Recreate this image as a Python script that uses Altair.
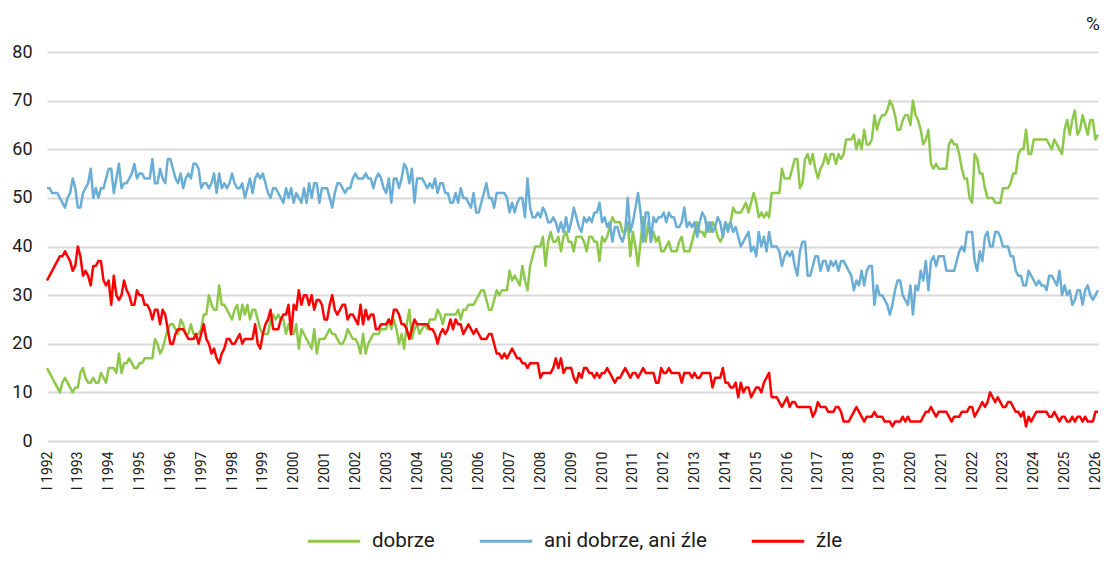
import altair as alt
import pandas as pd

# Monthly survey results, January 1992 - February 2026 (%), one line per year
dobrze = [
    15, 14, 13, 12, 11, 10, 12, 13, 12, 11, 10, 11,  # 1992
    11, 14, 15, 13, 12, 12, 13, 12, 12, 14, 13, 12,  # 1993
    15, 15, 15, 14, 18, 14, 16, 16, 17, 16, 15, 15,  # 1994
    16, 16, 17, 17, 17, 17, 21, 20, 18, 19, 21, 23,  # 1995
    24, 24, 23, 22, 25, 24, 22, 22, 24, 22, 22, 22,  # 1996
    23, 26, 26, 30, 28, 27, 27, 32, 28, 28, 27, 26,  # 1997
    25, 27, 28, 25, 28, 26, 28, 25, 27, 27, 25, 23,  # 1998
    22, 22, 22, 25, 26, 25, 26, 25, 25, 22, 24, 22,  # 1999
    22, 24, 19, 23, 22, 21, 20, 19, 23, 18, 21, 21,  # 2000
    21, 22, 23, 22, 22, 21, 20, 20, 21, 23, 22, 21,  # 2001
    21, 20, 18, 22, 18, 20, 21, 22, 22, 22, 23, 23,  # 2002
    23, 25, 23, 25, 23, 20, 22, 19, 24, 27, 21, 23,  # 2003
    24, 22, 23, 24, 23, 25, 25, 25, 27, 26, 24, 26,  # 2004
    26, 26, 26, 26, 27, 25, 27, 27, 28, 28, 28, 29,  # 2005
    30, 31, 31, 29, 27, 27, 29, 31, 30, 31, 31, 31,  # 2006
    35, 33, 34, 33, 32, 36, 33, 31, 36, 38, 40, 40,  # 2007
    40, 42, 36, 41, 43, 41, 41, 42, 39, 42, 43, 41,  # 2008
    41, 39, 42, 42, 42, 41, 39, 42, 42, 41, 41, 37,  # 2009
    42, 41, 42, 44, 46, 45, 45, 45, 43, 43, 45, 38,  # 2010
    43, 40, 36, 41, 46, 41, 45, 41, 43, 41, 42, 39,  # 2011
    39, 40, 41, 39, 39, 39, 41, 42, 39, 39, 39, 41,  # 2012
    43, 45, 43, 43, 42, 45, 43, 45, 44, 42, 41, 42,  # 2013
    45, 44, 45, 48, 47, 47, 47, 48, 49, 47, 49, 51,  # 2014
    49, 46, 47, 46, 47, 46, 51, 51, 51, 51, 56, 54,  # 2015
    54, 54, 56, 58, 58, 52, 53, 58, 59, 57, 59, 56,  # 2016
    54, 56, 57, 59, 57, 59, 59, 57, 59, 58, 59, 62,  # 2017
    62, 62, 63, 60, 62, 60, 64, 61, 61, 62, 67, 64,  # 2018
    66, 67, 67, 68, 70, 69, 67, 64, 64, 66, 67, 67,  # 2019
    65, 70, 67, 66, 64, 61, 62, 64, 57, 56, 57, 56,  # 2020
    56, 56, 56, 61, 62, 61, 61, 59, 56, 54, 54, 50,  # 2021
    49, 59, 58, 55, 55, 52, 50, 50, 50, 49, 49, 49,  # 2022
    52, 52, 52, 53, 55, 55, 59, 60, 60, 64, 59, 59,  # 2023
    62, 62, 62, 62, 62, 62, 61, 60, 62, 61, 60, 59,  # 2024
    64, 66, 63, 66, 68, 63, 64, 67, 65, 63, 66, 66,  # 2025
    62, 63,                                          # 2026
]

ani_dobrze_ani_zle = [
    52, 52, 51, 51, 51, 50, 49, 48, 50, 51, 54, 52,  # 1992
    48, 48, 51, 52, 53, 56, 50, 52, 50, 52, 52, 54,  # 1993
    56, 56, 51, 54, 57, 52, 53, 53, 54, 55, 57, 54,  # 1994
    55, 55, 54, 54, 54, 58, 53, 53, 56, 54, 53, 58,  # 1995
    58, 56, 54, 53, 55, 52, 54, 55, 54, 57, 57, 56,  # 1996
    52, 53, 53, 52, 53, 55, 51, 55, 52, 53, 52, 53,  # 1997
    55, 53, 52, 52, 53, 50, 52, 54, 51, 54, 55, 54,  # 1998
    55, 53, 51, 50, 52, 52, 51, 50, 49, 52, 50, 52,  # 1999
    49, 51, 50, 49, 52, 49, 53, 50, 53, 53, 49, 52,  # 2000
    52, 52, 50, 48, 51, 53, 53, 52, 51, 52, 52, 54,  # 2001
    55, 54, 54, 54, 55, 54, 54, 52, 54, 55, 54, 52,  # 2002
    51, 54, 49, 54, 54, 52, 54, 57, 56, 53, 56, 49,  # 2003
    54, 54, 54, 53, 52, 53, 52, 54, 51, 53, 53, 51,  # 2004
    51, 49, 49, 51, 49, 52, 50, 50, 49, 48, 51, 47,  # 2005
    47, 49, 51, 53, 50, 50, 48, 51, 51, 51, 51, 50,  # 2006
    47, 49, 47, 49, 50, 50, 46, 54, 48, 46, 46, 47,  # 2007
    46, 48, 47, 45, 45, 46, 45, 43, 45, 43, 46, 43,  # 2008
    45, 48, 46, 44, 43, 46, 45, 46, 45, 47, 47, 49,  # 2009
    45, 46, 44, 45, 41, 44, 44, 42, 41, 43, 50, 43,  # 2010
    45, 48, 51, 47, 41, 47, 47, 41, 46, 45, 46, 46,  # 2011
    47, 45, 47, 46, 46, 44, 44, 45, 48, 44, 45, 44,  # 2012
    45, 42, 45, 47, 46, 43, 45, 43, 44, 46, 45, 42,  # 2013
    45, 43, 45, 43, 44, 42, 40, 41, 42, 43, 39, 40,  # 2014
    38, 43, 40, 42, 39, 43, 40, 40, 40, 39, 36, 38,  # 2015
    39, 38, 39, 36, 34, 39, 41, 41, 34, 34, 36, 38,  # 2016
    38, 35, 37, 37, 35, 37, 36, 37, 35, 37, 37, 36,  # 2017
    35, 34, 31, 33, 32, 35, 32, 35, 36, 36, 28, 32,  # 2018
    30, 30, 29, 28, 26, 28, 31, 33, 33, 30, 29, 28,  # 2019
    32, 26, 32, 31, 35, 33, 37, 31, 37, 38, 36, 38,  # 2020
    38, 38, 35, 35, 35, 35, 37, 39, 40, 39, 43, 43,  # 2021
    43, 37, 35, 39, 37, 42, 43, 40, 40, 43, 43, 42,  # 2022
    40, 40, 40, 38, 38, 35, 34, 34, 32, 32, 35, 34,  # 2023
    33, 32, 33, 32, 32, 31, 34, 34, 33, 32, 35, 30,  # 2024
    32, 30, 31, 28, 29, 31, 31, 28, 31, 32, 30, 29,  # 2025
    30, 31,                                          # 2026
]

zle = [
    33, 34, 35, 36, 37, 38, 38, 39, 38, 37, 35, 36,  # 1992
    40, 38, 34, 35, 34, 32, 36, 36, 37, 37, 33, 32,  # 1993
    33, 28, 34, 30, 29, 30, 33, 31, 30, 28, 28, 31,  # 1994
    30, 30, 28, 28, 27, 25, 27, 27, 24, 27, 26, 23,  # 1995
    20, 20, 22, 23, 23, 23, 22, 21, 21, 21, 22, 20,  # 1996
    22, 24, 21, 20, 18, 19, 17, 16, 18, 19, 21, 21,  # 1997
    20, 20, 21, 22, 20, 21, 21, 21, 21, 24, 20, 19,  # 1998
    22, 24, 25, 27, 23, 23, 23, 25, 26, 26, 28, 22,  # 1999
    28, 27, 31, 28, 30, 30, 28, 30, 27, 29, 29, 28,  # 2000
    25, 25, 28, 30, 27, 26, 27, 28, 28, 25, 26, 26,  # 2001
    25, 24, 28, 24, 27, 25, 26, 26, 23, 23, 24, 24,  # 2002
    24, 25, 24, 27, 27, 26, 24, 24, 23, 21, 23, 25,  # 2003
    24, 24, 24, 24, 24, 23, 23, 22, 20, 22, 23, 22,  # 2004
    23, 25, 23, 25, 24, 24, 22, 23, 24, 23, 22, 23,  # 2005
    22, 21, 21, 21, 22, 22, 20, 18, 18, 17, 18, 17,  # 2006
    18, 19, 18, 17, 17, 16, 16, 15, 16, 16, 16, 16,  # 2007
    13, 14, 14, 14, 14, 15, 17, 15, 17, 14, 15, 15,  # 2008
    15, 13, 12, 14, 13, 15, 15, 14, 14, 13, 14, 13,  # 2009
    14, 14, 15, 14, 13, 12, 13, 13, 14, 15, 14, 13,  # 2010
    14, 14, 13, 14, 15, 14, 14, 14, 14, 12, 12, 15,  # 2011
    14, 14, 15, 14, 14, 14, 14, 12, 14, 14, 14, 13,  # 2012
    14, 13, 13, 14, 14, 14, 14, 11, 13, 13, 13, 15,  # 2013
    12, 12, 11, 11, 12, 9, 12, 10, 11, 11, 9, 10,    # 2014
    11, 11, 10, 12, 13, 14, 9, 9, 9, 8, 7, 8,        # 2015
    9, 7, 8, 8, 7, 7, 7, 7, 7, 7, 5, 6,              # 2016
    8, 7, 7, 7, 6, 6, 6, 7, 7, 6, 4, 4,              # 2017
    4, 5, 6, 7, 6, 5, 4, 5, 5, 5, 6, 5,              # 2018
    5, 5, 4, 4, 4, 3, 4, 4, 4, 5, 4, 5,              # 2019
    4, 4, 4, 4, 4, 5, 6, 6, 7, 6, 5, 6,              # 2020
    6, 6, 6, 5, 4, 5, 5, 5, 6, 6, 6, 7,              # 2021
    7, 5, 6, 7, 8, 7, 8, 10, 9, 8, 9, 8,             # 2022
    7, 7, 8, 8, 7, 6, 6, 5, 6, 3, 5, 4,              # 2023
    5, 6, 6, 6, 6, 6, 5, 5, 6, 5, 4, 5,              # 2024
    5, 4, 4, 5, 4, 5, 5, 4, 5, 4, 4, 4,              # 2025
    6, 6,                                            # 2026
]

series_names = ["dobrze", "ani dobrze, ani źle", "źle"]
series_colors = ["#8DC84A", "#6AADD5", "#FF0000"]
tick_years = list(range(1992, 2027))
start_year = 1992

rows = []
for name, vals in zip(series_names, [dobrze, ani_dobrze_ani_zle, zle]):
    for i, v in enumerate(vals):
        rows.append({"t": start_year + i / 12, "seria": name, "v": v})
df = pd.DataFrame(rows)
last_t = start_year + (len(dobrze) - 1) / 12

FONT = "Roboto"
TXT = "#1a1a1a"

lines = alt.Chart(df).mark_line(strokeWidth=2.5, strokeJoin="round").encode(
    x=alt.X(
        "t:Q",
        scale=alt.Scale(domain=[start_year, last_t], nice=False, zero=False),
        axis=alt.Axis(
            values=tick_years,
            labelExpr="'I ' + datum.value",
            labelAngle=270,
            labelFlush=False,
            labelOverlap=False,
            grid=False,
            ticks=False,
            tickSize=0,
            domain=False,
            labelFontSize=14,
            labelFont=FONT,
            labelColor=TXT,
            labelPadding=10,
            title=None,
        ),
    ),
    y=alt.Y(
        "v:Q",
        scale=alt.Scale(domain=[0, 80], nice=False),
        axis=alt.Axis(
            values=list(range(0, 81, 10)),
            grid=True,
            gridColor="#d9d9d9",
            gridWidth=2,
            domain=False,
            ticks=False,
            tickSize=0,
            labelFontSize=18,
            labelFont=FONT,
            labelColor=TXT,
            labelPadding=15,
            title=None,
        ),
    ),
    color=alt.Color(
        "seria:N",
        scale=alt.Scale(domain=series_names, range=series_colors),
        sort=series_names,
        legend=alt.Legend(
            title=None,
            orient="none",
            legendX=259,
            legendY=461,
            direction="horizontal",
            symbolType="stroke",
            symbolStrokeWidth=3,
            symbolSize=2750,
            labelFontSize=20.5,
            labelFont=FONT,
            labelColor=TXT,
            labelLimit=400,
            labelOffset=10,
            columnPadding=38,
        ),
    ),
)

pct = alt.Chart(pd.DataFrame({"s": ["%"]})).mark_text(
    fontSize=19, font=FONT, color=TXT, align="right", baseline="alphabetic"
).encode(text="s:N", x=alt.value(1053), y=alt.value(-22))

chart = (
    alt.layer(lines, pct)
    .properties(
        width=1051,
        height=389,
        autosize=alt.AutoSizeParams(type="none"),
        padding={"left": 39, "top": 44, "right": 5, "bottom": 110},
        background="white",
    )
    .configure_view(strokeWidth=0)
)

chart.save("out.html", embed_options={"renderer": "svg", "actions": False})
